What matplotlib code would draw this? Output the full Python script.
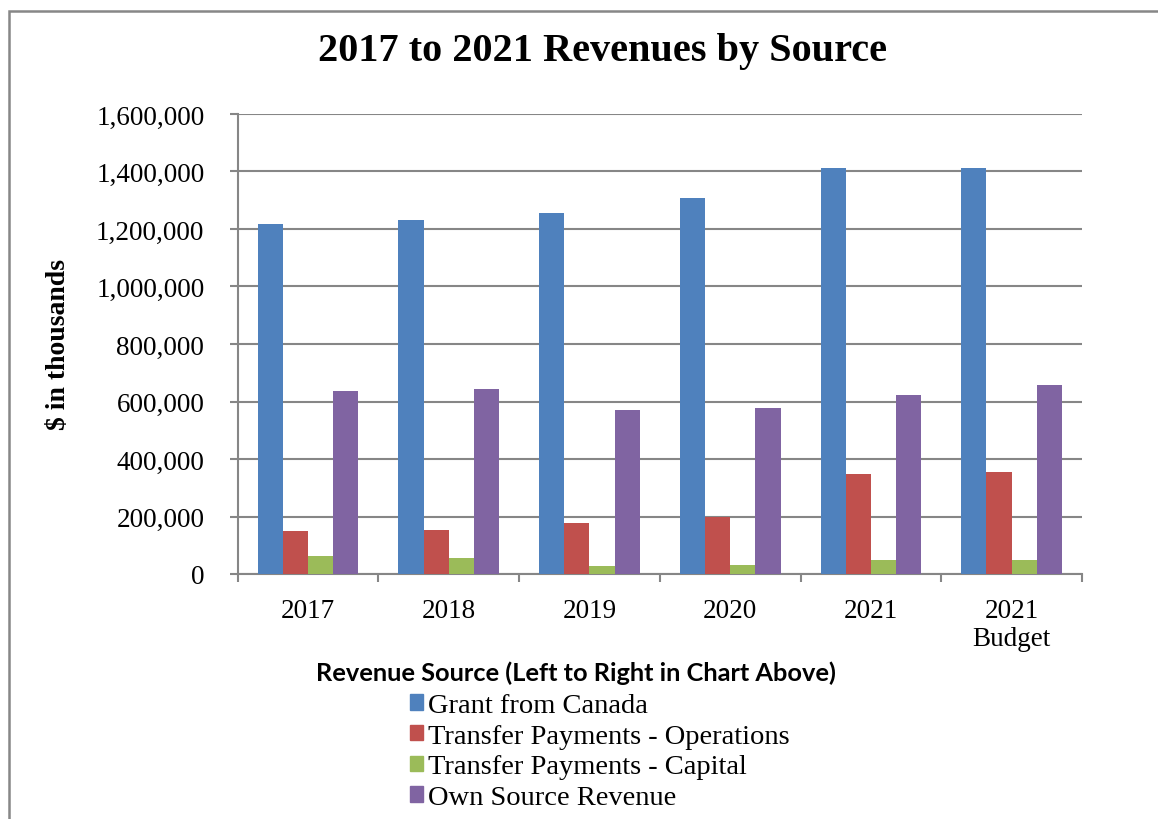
import matplotlib.pyplot as plt
import matplotlib.patches as mpatches
import numpy as np
from matplotlib.ticker import FuncFormatter, FixedLocator

# Revenue data ($ in thousands)
years = ['2017', '2018', '2019', '2020', '2021', '2021\nBudget']
grant_canada = [1219000, 1231000, 1255000, 1308000, 1412000, 1412000]
transfer_ops = [151000, 154000, 176000, 197000, 348000, 354000]
transfer_cap = [64000, 56000, 28000, 33000, 49000, 49000]
own_source = [635000, 644000, 569000, 576000, 622000, 659000]

series_names = ['Grant from Canada', 'Transfer Payments - Operations',
                'Transfer Payments - Capital', 'Own Source Revenue']
series_values = [grant_canada, transfer_ops, transfer_cap, own_source]
colors = ['#4F81BD', '#C0504D', '#9BBB59', '#8064A2']

serif = 'Liberation Serif'
grid_col = '#868686'

fig = plt.figure(figsize=(11.58, 8.2), dpi=100)
ax = fig.add_axes([237.7 / 1158, 1 - 575 / 820, (1082 - 237.7) / 1158, (575 - 115) / 820])

# Grouped bars
x = np.arange(len(years))
bar_w = 0.179
for i, (name, vals, c) in enumerate(zip(series_names, series_values, colors)):
    offset = (i - 1.5) * bar_w
    ax.bar(x + offset, vals, width=bar_w, color=c, label=name, zorder=3)

ax.set_xlim(-0.5, len(years) - 0.5)
ax.set_ylim(0, 1600000)
ax.set_yticks(np.arange(0, 1600001, 200000))
ax.yaxis.set_major_formatter(FuncFormatter(lambda v, p: f'{int(v):,}'))
ax.yaxis.grid(True, color=grid_col, linewidth=1.5, zorder=0)

# Category labels at centers, tick marks at the boundaries
ax.set_xticks(x)
ax.set_xticklabels(years, fontfamily=serif, fontsize=19.5)
ax.xaxis.set_minor_locator(FixedLocator(np.arange(-0.5, len(years), 1)))
ax.tick_params(axis='x', which='major', length=0, pad=17)
ax.tick_params(axis='x', which='minor', length=6, width=1.5, color=grid_col, direction='out')
ax.tick_params(axis='y', length=6, width=1.5, color=grid_col, pad=18, labelsize=19.5)
for lab in ax.get_yticklabels():
    lab.set_fontfamily(serif)

for s in ['top', 'right']:
    ax.spines[s].set_visible(False)
for s in ['left', 'bottom']:
    ax.spines[s].set_color(grid_col)
    ax.spines[s].set_linewidth(1.5)

ax.set_ylabel('$ in thousands', fontfamily=serif, fontweight='bold', fontsize=20, labelpad=18)

fig.text(602 / 1158, 1 - 52 / 820, '2017 to 2021 Revenues by Source', ha='center', va='center',
         fontfamily=serif, fontweight='bold', fontsize=29)

# Legend below the chart
fig.text(576 / 1158, 1 - 673 / 820, 'Revenue Source (Left to Right in Chart Above)',
         ha='center', va='center', fontfamily='Lato', fontweight='bold', fontsize=18.3)
handles = [mpatches.Patch(color=c) for c in colors]
fig.legend(handles, series_names, loc='upper left', bbox_to_anchor=(410 / 1158, 1 - 694 / 820),
           frameon=False, prop={'family': serif, 'size': 20.5}, handlelength=0.46, handleheight=0.46,
           handletextpad=0.18, labelspacing=0.2, borderpad=0, borderaxespad=0)

# Outer chart frame (partly cut off)
frame = mpatches.Rectangle((9 / 1158, -0.1), 1.1, 0.1 + 1 - 12 / 820, transform=fig.transFigure,
                           fill=False, edgecolor='#878787', linewidth=1.8)
fig.patches.append(frame)

fig.savefig('out.png', dpi=100)
